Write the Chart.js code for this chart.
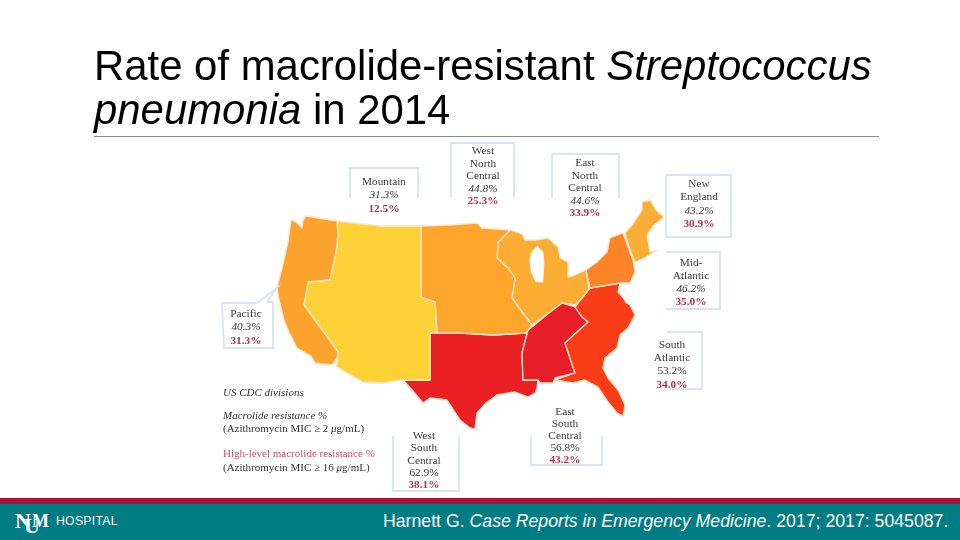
<!DOCTYPE html>
<html><head><meta charset="utf-8">
<script src="https://cdn.jsdelivr.net/npm/chart.js@4"></script>
<style>
html,body{margin:0;padding:0;background:#fff;width:960px;height:540px;overflow:hidden}
#wrap{position:relative;width:960px;height:540px}
canvas{position:absolute;left:0;top:0;filter:blur(.45px)}
.t{position:absolute;white-space:nowrap}
#title{left:94px;top:44px;font:41.9px/44px "Liberation Sans",Arial,sans-serif;color:#000}
#rule{left:94px;top:136px;width:785px;height:1px;background:#8c8c8c}
#band1{left:0;top:498px;width:960px;height:6px;background:#ae1036}
#band2{left:0;top:504px;width:960px;height:36px;background:#007c85}
#foot{left:383px;top:511px;font:17.7px/20px "Liberation Sans",Arial,sans-serif;color:#fff}
#hosp{left:56px;top:514px;font:12.2px/14px "Liberation Sans",Arial,sans-serif;color:#fff;letter-spacing:.3px}
#logo{left:15px;top:509px;width:36px;height:26px;color:#fff}
#logo span{position:absolute;font-family:"Liberation Serif",serif;font-weight:bold}
.c{position:absolute;transform:translate(-50%,-50%);font:11.3px/12px "Liberation Serif",serif;color:#3a3a3a;text-align:center;white-space:nowrap;filter:blur(.3px)}
.r{color:#b93246;font-weight:bold}
.l{position:absolute;left:223px;transform:translateY(-50%);font:11px/12px "Liberation Serif",serif;color:#333;white-space:nowrap;filter:blur(.3px)}
</style></head><body>
<div id="wrap">
<canvas id="map" width="960" height="540"></canvas>
<div class="t" id="title">Rate of macrolide-resistant <i>Streptococcus</i><br><i>pneumonia</i> in 2014</div>
<div class="t" id="rule"></div>
<div class="t" id="band1"></div><div class="t" id="band2"></div>
<div class="t" id="logo"><span style="left:0;top:1px;font-size:22px;line-height:22px">N</span><span style="left:17px;top:2px;font-size:18px;line-height:20px">M</span><span style="left:9px;top:6px;font-size:22px;line-height:22px">U</span></div>
<div class="t" id="hosp">HOSPITAL</div>
<div class="t" id="foot">Harnett G. <i>Case Reports in Emergency Medicine</i>. 2017; 2017: 5045087.</div>
</div>
<script>
const divisions=["Mountain","West North Central","East North Central","New England","Mid-Atlantic","South Atlantic","East South Central","West South Central","Pacific"];
const macrolide=[31.3,44.8,44.6,43.2,46.2,53.2,56.8,62.9,40.3];
const highLevel=[12.5,25.3,33.9,30.9,35.0,34.0,43.2,38.1,31.3];

// region outlines, in map units
const pacific=[[306,216],[337,221],[338,236],[336,252],[330,280],[308,282],[304,305],[338,352],[337,358],[332,365],[315,363],[311,356],[297,348],[288,330],[284,320],[279,300],[277,288],[282,268],[288,242],[291,220],[296,222],[302,228],[303,220],[306,216]];
const mountain=[[337,221],[380,226],[421,226],[421,297],[435,302],[437,333],[430,333],[430,380],[402,380],[383,383],[363,382],[337,367],[338,352],[304,305],[308,282],[330,280],[336,252],[338,236],[337,221]];
const westNorthCentral=[[421,226],[450,225],[477,223],[482,228],[510,230],[498,242],[497,258],[508,268],[515,278],[512,298],[522,312],[532,325],[526,333],[493,335],[460,333],[437,333],[435,302],[421,297],[421,226]];
const eastNorthCentral=[[498,242],[510,230],[522,234],[525,240],[535,240],[548,238],[558,247],[560,258],[568,262],[568,277],[575,275],[586,270],[589,289],[582,298],[575,305],[562,303],[550,312],[532,325],[522,312],[512,298],[515,278],[508,268],[497,258],[498,242]];
const lakeMichigan=[[531,253],[537,246],[543,252],[544,262],[543,282],[536,282],[531,272],[530,260],[531,253]];
const midAtlantic=[[623,233],[628,247],[633,260],[635,272],[630,283],[620,283],[590,288],[586,270],[597,262],[607,252],[610,238],[623,233]];
const newEngland=[[625,233],[633,224],[642,210],[642,202],[650,200],[656,210],[664,217],[653,226],[647,235],[650,252],[657,250],[646,257],[640,260],[635,262],[629,247],[625,233]];
const southAtlantic=[[590,288],[620,283],[618,292],[628,303],[630,305],[635,315],[628,328],[620,335],[617,348],[605,358],[603,368],[608,378],[618,390],[625,405],[623,416],[617,413],[608,402],[602,393],[598,387],[585,380],[573,383],[555,380],[575,373],[565,343],[588,322],[582,317],[575,307],[582,298],[590,288]];
const chesapeake=[[620,285],[623,285],[628,298],[630,305],[626,303],[620,292],[620,285]];
const eastSouthCentral=[[532,327],[550,312],[562,303],[575,307],[582,317],[588,322],[565,343],[575,373],[555,378],[553,383],[540,383],[538,380],[523,380],[522,353],[528,330],[532,327]];
const westSouthCentral=[[430,333],[460,333],[493,335],[526,333],[528,330],[522,353],[523,380],[538,380],[537,388],[535,393],[528,397],[515,392],[497,395],[486,403],[477,413],[475,428],[478,430],[470,428],[460,420],[447,400],[430,398],[423,403],[412,390],[403,380],[430,380],[430,333]];

// callout frames, in map units
const frameMountain=[[350,198],[350,168],[418,168],[418,198]];
const frameWNC=[[451,197],[451,143],[514,143],[514,197]];
const frameENC=[[552,198],[552,154],[619,154],[619,198]];
const frameNE=[[666,175],[731,175],[731,237],[666,237],[666,175]];
const frameMid=[[666,252],[720,252],[720,309],[666,309]];
const frameSA=[[667,332],[702,332],[702,389],[670,389]];
const frameESC=[[531,436],[531,465],[602,465],[602,436]];
const frameWSC=[[393,436],[393,491],[459,491],[459,436]];
const framePacific=[[257,303],[277,288],[267,302],[273,302],[273,348],[224,348],[222,303],[257,303]];

const regionStyles=[
 [pacific,"#fba32d"],[mountain,"#fed137"],[westNorthCentral,"#fda52d"],[eastNorthCentral,"#fbae33"],
 [midAtlantic,"#fa8427"],[newEngland,"#fbae37"],[southAtlantic,"#fb3d17"],[eastSouthCentral,"#e81f2b"],[westSouthCentral,"#eb2025"]];
const pts=a=>a.map(p=>({x:p[0],y:p[1]}));
const datasets=[];
// the first dataset is painted last, so lakes come first
for(const r of [lakeMichigan,chesapeake]){
 datasets.push({data:pts(r),showLine:true,fill:"shape",backgroundColor:"#ffffff",borderColor:"#fdf0e4",borderWidth:.6,pointRadius:0,tension:0});
}
for(const f of [frameMountain,frameWNC,frameENC,frameNE,frameMid,frameSA,frameESC,frameWSC,framePacific]){
 datasets.push({data:pts(f),showLine:true,fill:false,borderColor:"#d8e5ee",borderWidth:1.8,pointRadius:0,tension:0});
}
for(const [r,c] of regionStyles){
 datasets.push({data:pts(r),showLine:true,fill:"shape",backgroundColor:c,borderColor:"#fde3c8",borderWidth:1.3,pointRadius:0,tension:0,borderJoinStyle:"round"});
}
new Chart(document.getElementById("map"),{
 type:"scatter",
 data:{datasets},
 options:{responsive:false,animation:false,devicePixelRatio:1,
  layout:{padding:0},
  scales:{x:{type:"linear",min:0,max:960,display:false},y:{type:"linear",min:0,max:540,reverse:true,display:false}},
  plugins:{legend:{display:false},tooltip:{enabled:false},title:{display:false}}}
});

// callout text
const nameLines=[["Mountain"],["West","North","Central"],["East","North","Central"],["New","England"],["Mid-","Atlantic"],["South","Atlantic"],["East","South","Central"],["West","South","Central"],["Pacific"]];
const calloutX=[384,483,585,699,691,672,565,424,246];
const calloutY=[194.5,175,187,204,281.5,364,435,460,326.5];
const calloutPitch=[13.5,12.5,12.5,13.3,13,13.2,12,12.3,13.5];
const italicPct=[1,1,1,1,1,0,0,0,1];
const wrap=document.getElementById("wrap");
divisions.forEach((d,i)=>{
 const el=document.createElement("div");el.className="c";
 el.style.left=calloutX[i]+"px";el.style.top=calloutY[i]+"px";el.style.lineHeight=calloutPitch[i]+"px";
 const pct=macrolide[i].toFixed(1)+"%";
 el.innerHTML=nameLines[i].join("<br>")+"<br>"+(italicPct[i]?"<i>"+pct+"</i>":pct)+'<br><span class="r">'+highLevel[i].toFixed(1)+"%</span>";
 wrap.appendChild(el);
});
const legendLines=[["<i>US CDC divisions</i>",392,"#333"],["<i>Macrolide resistance %</i>",415,"#333"],["(Azithromycin MIC ≥ 2 <i>μ</i>g/mL)",428,"#333"],["High-level macrolide resistance %",453,"#c0566a"],["(Azithromycin MIC ≥ 16 <i>μ</i>g/mL)",467,"#333"]];
for(const [t,y,c] of legendLines){
 const el=document.createElement("div");el.className="l";el.innerHTML=t;el.style.top=y+"px";el.style.color=c;wrap.appendChild(el);
}
</script>
</body></html>
